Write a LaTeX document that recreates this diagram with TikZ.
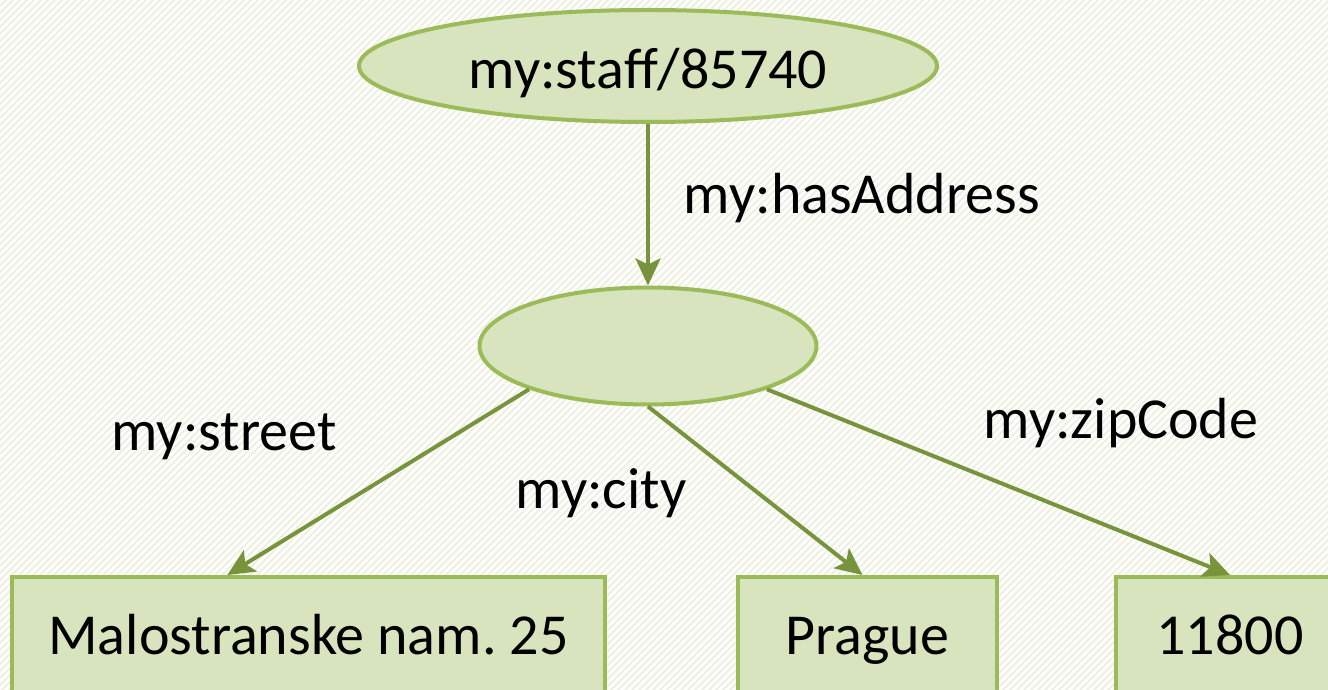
\documentclass[tikz,border=0pt]{standalone}
\usepackage{fontspec}
\setmainfont{Carlito}
\frenchspacing
\usetikzlibrary{shapes.geometric,arrows.meta,calc}
\definecolor{nodefill}{HTML}{D7E4BD}
\definecolor{nodeline}{HTML}{9BBB59}
\definecolor{arrowline}{HTML}{77933C}
\definecolor{hatchcol}{HTML}{EEF0E2}
\tikzset{
  big/.style={font=\fontsize{58}{62}\selectfont},
  resnode/.style={ellipse,draw=nodeline,fill=nodefill,line width=4pt,inner sep=0pt,big,text height=46pt,text depth=0pt},
  litnode/.style={rectangle,draw=nodeline,fill=nodefill,line width=4pt,inner sep=0pt,big,text height=37pt,text depth=0pt},
  edge/.style={draw=arrowline,line width=4pt,-{Stealth[length=27pt,width=25pt,inset=6pt]}},
  elabel/.style={big,anchor=base,inner sep=0pt},
  hatch/.style={draw=hatchcol,line width=2pt}
}
\begin{document}
\begin{tikzpicture}[x=1pt,y=-1pt]
\path[use as bounding box] (0,0) rectangle (1328,690);
\clip (0,0) rectangle (1328,690);
\fill[white] (0,0) rectangle (1328,690);
\foreach \i in {-700,-693,...,1330} {
  \draw[hatch] (\i,692) -- ++(694,-694);
}
\node[resnode,minimum width=578pt,minimum height=112pt] (staff) at (648,66) {my:staff/85740};
\node[resnode,minimum width=337pt,minimum height=117pt] (addr) at (648,346) {};
\node[litnode,minimum width=593pt,minimum height=118pt] (street) at (308.5,636) {Malostranske nam. 25};
\node[litnode,minimum width=259pt,minimum height=118pt] (city) at (867.5,636) {Prague};
\node[litnode,minimum width=228pt,minimum height=118pt] (zip) at (1230,636) {11800};

\draw[edge] (staff.south) -- (addr.north);
\draw[edge] (addr.200) -- ($(street.north west)!0.364!(street.north east)$);
\draw[edge] (addr.south) -- ($(city.north)+(-5,0)$);
\draw[edge] (addr.-20) -- (zip.north);

\node[elabel] (lhas) at (862,213) {my:hasAddress};
\node[elabel] (lstreet) at (224,450) {my:street};
\node[elabel] (lcity) at (601,508) {my:city};
\node[elabel] (lzip) at (1121,438) {my:zipCode};
\end{tikzpicture}
\end{document}
